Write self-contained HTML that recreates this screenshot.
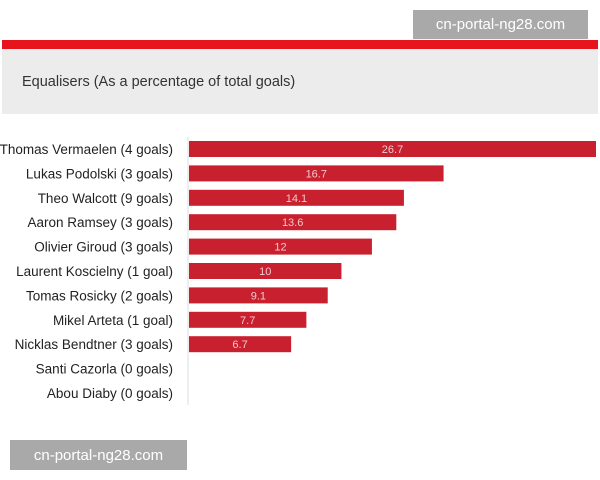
<!DOCTYPE html>
<html><head><meta charset="utf-8"><style>
body{margin:0;width:600px;height:480px;background:#fff;position:relative;overflow:hidden;font-family:"Liberation Sans",sans-serif}
.wm{position:absolute;background:#a9a9a9;color:#fff;font-size:15px;display:flex;align-items:center;justify-content:center}
</style></head><body>
<div style="position:absolute;left:2px;top:40px;width:596px;height:9px;background:#e8141c"></div>
<div style="position:absolute;left:2px;top:49px;width:596px;height:65px;background:#ececec"></div>
<div style="position:absolute;left:22px;top:74px;font-size:14.5px;color:#333">Equalisers (As a percentage of total goals)</div>
<svg id="chart" width="600" height="480" style="position:absolute;left:0;top:0"></svg>
<div class="wm" style="left:413px;top:10px;width:175px;height:29px">cn-portal-ng28.com</div>
<div class="wm" style="left:10px;top:440px;width:177px;height:30px">cn-portal-ng28.com</div>
<script>
const categories=["Thomas Vermaelen (4 goals)","Lukas Podolski (3 goals)","Theo Walcott (9 goals)","Aaron Ramsey (3 goals)","Olivier Giroud (3 goals)","Laurent Koscielny (1 goal)","Tomas Rosicky (2 goals)","Mikel Arteta (1 goal)","Nicklas Bendtner (3 goals)","Santi Cazorla (0 goals)","Abou Diaby (0 goals)"];
const values=[26.7,16.7,14.1,13.6,12,10,9.1,7.7,6.7,0,0];
const labels=["26.7","16.7","14.1","13.6","12","10","9.1","7.7","6.7","",""];
const svg=document.getElementById('chart');
const NS='http://www.w3.org/2000/svg';
const x0=189,xMax=26.7,wMax=407;
function xs(v){return v/xMax*wMax;}
function ys(i){return 149+i*24.4;}
const ax=document.createElementNS(NS,'line');
ax.setAttribute('x1',188);ax.setAttribute('x2',188);ax.setAttribute('y1',137);ax.setAttribute('y2',405);
ax.setAttribute('stroke','#ddd');


svg.appendChild(ax);
categories.forEach((c,i)=>{
  const y=ys(i);
  const t=document.createElementNS(NS,'text');
  t.setAttribute('x',173);t.setAttribute('y',y+5);t.setAttribute('text-anchor','end');
  t.setAttribute('font-size','13.5');t.setAttribute('fill','#222');
  t.setAttribute('font-family','Liberation Sans, sans-serif');
  t.textContent=c;
  
  
  svg.appendChild(t);
  if(values[i]>0){
    const r=document.createElementNS(NS,'rect');
    r.setAttribute('x',x0);r.setAttribute('y',y-8);r.setAttribute('width',xs(values[i]));r.setAttribute('height',16);
    r.setAttribute('fill','#c8202f');
    
    
    svg.appendChild(r);
    const v=document.createElementNS(NS,'text');
    v.setAttribute('x',x0+xs(values[i])/2);v.setAttribute('y',y+4);v.setAttribute('text-anchor','middle');
    v.setAttribute('font-size','11');v.setAttribute('fill','#f3c9cc');
    v.setAttribute('font-family','Liberation Sans, sans-serif');
    v.textContent=labels[i];
    
    
    svg.appendChild(v);
  }
});
</script>
</body></html>
